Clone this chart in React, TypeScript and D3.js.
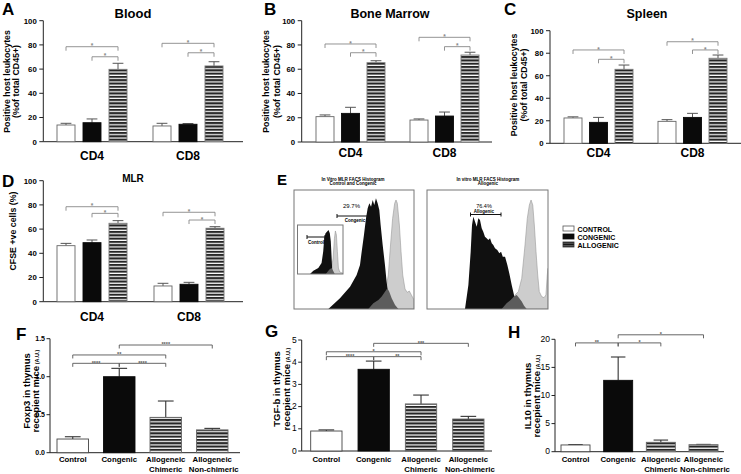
import React from 'react';
import * as d3 from 'd3';

const FONT = '"Liberation Sans", Arial, Helvetica, sans-serif';

// ---------------- data ----------------
const cellGroups = ['CD4', 'CD8'];
const donorSeries = ['CONTROL', 'CONGENIC', 'ALLOGENIC'];
const pctTicks = [0, 20, 40, 60, 80, 100];

const bloodMeans = [[13.8, 15.7, 59.8], [13, 14.4, 62.6]];
const bloodSem = [[1.4, 3.1, 5], [2.2, 0.6, 3.5]];
const bloodSig = [[78.5, 70.2], [81.3, 73.5]];

const marrowMeans = [[20.9, 23.6, 65.4], [18.1, 21.4, 71.7]];
const marrowSem = [[1.4, 5, 1.6], [0.9, 3.3, 2.3]];
const marrowSig = [[80.8, 73.6], [86.3, 78.6]];

const spleenMeans = [[22.5, 18.6, 65.7], [19.5, 23, 75.5]];
const spleenSem = [[1, 4.4, 3.8], [1.5, 3.6, 2.9]];
const spleenSig = [[82.9, 74.6], [90.2, 82.9]];

const mlrMeans = [[46.3, 48.8, 64.8], [13, 14.4, 60.7]];
const mlrSem = [[1.9, 2.2, 2.2], [2.2, 1.6, 1.3]];
const mlrSig = [[78.5, 73], [73.9, 67.5]];

const thymusGroups = ['Control', 'Congenic', 'Allogeneic\nChimeric', 'Allogeneic\nNon-chimeric'];

const foxp3Means = [0.18, 1.0, 0.465, 0.3];
const foxp3Sem = [0.03, 0.11, 0.215, 0.02];
const foxp3Ticks = [0, 0.5, 1.0, 1.5];
const foxp3Sig: [number, number, number, string][] = [[1, 3, 1.417, '****'], [0, 2, 1.286, '**'], [0, 1, 1.176, '****'], [1, 2, 1.176, '****']];

const tgfMeans = [0.9, 3.68, 2.12, 1.44];
const tgfSem = [0.05, 0.37, 0.4, 0.12];
const tgfTicks = [0, 1, 2, 3, 4, 5];
const tgfSig: [number, number, number, string][] = [[1, 3, 4.85, '***'], [0, 2, 4.47, '*'], [0, 1, 4.25, '****'], [1, 2, 4.25, '**']];

const il10Means = [1.2, 12.7, 1.67, 1.25];
const il10Sem = [0.05, 4.15, 0.4, 0.05];
const il10Ticks = [0, 5, 10, 15, 20];
const il10Sig: [number, number, number, string][] = [[1, 3, 20.8, '*'], [0, 1, 19.36, '**'], [1, 2, 19.36, '*']];

// FACS histograms: [fluorescence (0-100 of box), count (0-100 of box)]
const histACongenic: [number, number][] = [[28.6, 0], [38.3, 9], [46.7, 18.8], [52.2, 28.6], [55, 37], [56.4, 48.2], [58.3, 62.2], [60, 76.2], [61.4, 84.6], [62.8, 88.8], [64.2, 86], [65.6, 91.6], [66.9, 87.4], [68.3, 93], [69.7, 88.8], [71.1, 83.2], [72.2, 70.6], [73.9, 53.8], [75.8, 37], [77.2, 22.7], [78.6, 11.8], [79.4, 0]];
const histAControl: [number, number][] = [[71.7, 0], [75.8, 11.8], [78.6, 28.6], [80, 48.2], [82.2, 76.2], [83.9, 88.8], [85, 91.6], [86.1, 88.8], [87.8, 70.6], [89.2, 48.2], [90.6, 28.6], [92.5, 16.8], [94.4, 14], [96.1, 15.1], [97.8, 11.8], [100, 7.6], [100, 0]];
const histAAllogenic: [number, number][] = [[61.9, 0], [66.1, 4.8], [70.3, 7.6], [73.1, 10.4], [75.8, 14.6], [77.8, 17.4], [79.4, 14.6], [81.4, 9], [84.2, 3.4], [87, 0]];

const histBCongenic: [number, number][] = [[31.4, 0], [34.2, 20.2], [36.1, 48.2], [37.2, 70.6], [38.3, 77.6], [39.7, 73.4], [41.1, 69.2], [42.4, 76.2], [43.8, 74.8], [45.2, 67.8], [46.5, 65], [47.9, 60.8], [49.3, 59.4], [50.7, 58], [52.1, 59.4], [53.5, 55.2], [54.8, 53.8], [56.2, 51], [58.1, 49.6], [59.8, 46.8], [61.2, 48.2], [62.6, 44], [64.5, 44], [66.4, 37], [68, 30], [70, 20.2], [71.9, 11.8], [73.6, 3.4], [74.1, 0]];
const histBControl: [number, number][] = [[70, 0], [72.7, 11.8], [75.5, 14.6], [78.3, 25.8], [81, 53.8], [82.9, 76.2], [84.6, 87.4], [86, 91.6], [87.4, 87.4], [88.7, 70.6], [90.1, 48.2], [91.5, 28.6], [92.8, 14.6], [94.8, 10.4], [96.7, 9.5], [98.3, 11.8], [99.4, 28.6], [100, 34.2], [100, 0]];
const histBAllogenic: [number, number][] = [[61.7, 0], [65.8, 4.8], [69.1, 7.6], [71.9, 10.4], [74.1, 11.8], [76.3, 9], [78.3, 6.2], [80.2, 2.8], [82.4, 0]];

const insetCongenic: [number, number][] = [[27.5, 0], [34.8, 6.8], [45.7, 12.2], [52.9, 22.3], [56.5, 45.9], [58.7, 73], [61.6, 83.1], [65.2, 86.5], [68.1, 89.9], [71, 83.1], [73.2, 66.2], [75.4, 25.7], [76.8, 0]];
const insetControl: [number, number][] = [[72.5, 0], [78.3, 32.4], [81.2, 73], [83.3, 87.8], [85.5, 79.7], [87.7, 45.9], [89.9, 12.2], [92.8, 4.1], [98.6, 2], [100, 2], [100, 0]];
const insetAllogenic: [number, number][] = [[62.3, 0], [69.6, 8.8], [74.6, 12.2], [78.3, 6.8], [81.9, 0]];

const legendItems = ['CONTROL', 'CONGENIC', 'ALLOGENIC'];

// ---------------- components ----------------
type GroupCfg = {
  letter: string; letterX: number; letterY: number;
  title: string; titleX: number; titleY: number; titleSize: number;
  axisX: number; xEnd: number; yBottom: number; yTop: number;
  groupRange: [number, number]; groupW: number; barW: number;
  means: number[][]; sem: number[][]; sig: number[][];
  yLabel: string[]; yLabelX: number[]; yLabelCY: number; catY: number;
};

function Bracket({ x1, x2, y, label, color, tick, fs }: { x1: number; x2: number; y: number; label: string; color: string; tick: number; fs: number }) {
  return (
    <g>
      <path d={`M${x1},${y + tick}V${y}H${x2}V${y + tick}`} fill="none" stroke={color} strokeWidth={0.9} />
      <text x={(x1 + x2) / 2} y={y + fs * 0.25} textAnchor="middle" fontSize={fs} fill={color} fontWeight="bold">{label}</text>
    </g>
  );
}

function GroupPanel({ c }: { c: GroupCfg }) {
  const y = d3.scaleLinear().domain([0, 100]).range([c.yBottom, c.yTop]);
  const R = c.groupRange[1] - c.groupRange[0];
  const x0 = d3.scaleBand<string>().domain(cellGroups).range(c.groupRange)
    .paddingInner((R - 2 * c.groupW) / (R - c.groupW)).paddingOuter(0);
  const x1 = d3.scaleBand<string>().domain(donorSeries).range([0, x0.bandwidth()])
    .paddingInner((c.groupW - 3 * c.barW) / (c.groupW - c.barW)).paddingOuter(0);
  const bw = x1.bandwidth();
  const fills = ['#fff', '#0a0a0a', 'url(#stripes)'];
  const strokes = ['#666', '#0a0a0a', '#777'];
  const center = (g: string, s: string) => x0(g)! + x1(s)! + bw / 2;
  return (
    <g fontFamily={FONT}>
      <text x={c.letterX} y={c.letterY} fontSize={17} fontWeight="bold">{c.letter}</text>
      <text x={c.titleX} y={c.titleY} fontSize={c.titleSize} fontWeight="bold" textAnchor="middle">{c.title}</text>
      {c.yLabel.map((t, i) => (
        <text key={i} transform={`translate(${c.yLabelX[i]},${c.yLabelCY}) rotate(-90)`} textAnchor="middle" fontSize={8.8} fontWeight="bold">{t}</text>
      ))}
      {pctTicks.map(t => (
        <g key={t}>
          <line x1={c.axisX - 4} x2={c.axisX} y1={y(t)} y2={y(t)} stroke="#222" />
          <text x={c.axisX - 6.5} y={y(t) + 2.8} textAnchor="end" fontSize={7.8} fontWeight="bold">{t}</text>
        </g>
      ))}
      <line x1={c.axisX} x2={c.axisX} y1={c.yTop} y2={c.yBottom} stroke="#222" />
      <line x1={c.axisX} x2={c.xEnd} y1={c.yBottom} y2={c.yBottom} stroke="#222" />
      {cellGroups.map((g, gi) => (
        <g key={g}>
          {donorSeries.map((s, si) => {
            const bx = x0(g)! + x1(s)!;
            const m = c.means[gi][si];
            const e = c.sem[gi][si];
            const cx = bx + bw / 2;
            return (
              <g key={s}>
                <line x1={cx} x2={cx} y1={y(m)} y2={y(m + e)} stroke="#555" />
                <line x1={cx - bw * 0.3} x2={cx + bw * 0.3} y1={y(m + e)} y2={y(m + e)} stroke="#555" />
                <rect x={bx} y={y(m)} width={bw} height={c.yBottom - y(m)} fill={fills[si]} stroke={strokes[si]} strokeWidth={0.9} />
              </g>
            );
          })}
          <text x={x0(g)! + x0.bandwidth() / 2} y={c.catY} textAnchor="middle" fontSize={12} fontWeight="bold">{g}</text>
          <Bracket x1={center(g, donorSeries[0])} x2={center(g, donorSeries[2])} y={y(c.sig[gi][0])} label="*" color="#888" tick={4} fs={6.5} />
          <Bracket x1={center(g, donorSeries[1])} x2={center(g, donorSeries[2])} y={y(c.sig[gi][1])} label="*" color="#888" tick={4} fs={6.5} />
        </g>
      ))}
    </g>
  );
}

type ThymusCfg = {
  letter: string; letterX: number; letterY: number;
  axisX: number; xEnd: number; yBottom: number; yTop: number; yMax: number;
  barRange: [number, number]; barW: number; ticks: number[]; tickFmt: string; tickFs: number; tickBold: boolean;
  means: number[]; sem: number[]; sig: [number, number, number, string][];
  yLabel1: string; yLabel2: string; yLabelX: number[]; yLabelCY: number;
};

function ThymusPanel({ c }: { c: ThymusCfg }) {
  const y = d3.scaleLinear().domain([0, c.yMax]).range([c.yBottom, c.yTop]);
  const R = c.barRange[1] - c.barRange[0];
  const n = thymusGroups.length;
  const x = d3.scaleBand<string>().domain(thymusGroups).range(c.barRange)
    .paddingInner((R - n * c.barW) / (R - c.barW)).paddingOuter(0);
  const bw = x.bandwidth();
  const fills = ['#fff', '#0a0a0a', 'url(#stripes)', 'url(#stripes)'];
  const strokes = ['#444', '#0a0a0a', '#666', '#666'];
  const fmt = d3.format(c.tickFmt);
  const cx = (i: number) => x(thymusGroups[i])! + bw / 2;
  return (
    <g fontFamily={FONT}>
      <text x={c.letterX} y={c.letterY} fontSize={17} fontWeight="bold">{c.letter}</text>
      <text transform={`translate(${c.yLabelX[0]},${c.yLabelCY}) rotate(-90)`} textAnchor="middle" fontSize={9.5} fontWeight="bold">{c.yLabel1}</text>
      <text transform={`translate(${c.yLabelX[1]},${c.yLabelCY}) rotate(-90)`} textAnchor="middle" fontSize={9.5} fontWeight="bold">
        {c.yLabel2}<tspan fontSize={5.5}> (A.U.)</tspan>
      </text>
      {c.ticks.map(t => (
        <g key={t}>
          <line x1={c.axisX - 3.5} x2={c.axisX} y1={y(t)} y2={y(t)} stroke="#222" />
          <text x={c.axisX - 5} y={y(t) + 2.6} textAnchor="end" fontSize={c.tickFs} fontWeight={c.tickBold ? 'bold' : 'normal'}>{fmt(t)}</text>
        </g>
      ))}
      <line x1={c.axisX} x2={c.axisX} y1={c.yTop} y2={c.yBottom} stroke="#222" />
      <line x1={c.axisX} x2={c.xEnd} y1={c.yBottom} y2={c.yBottom} stroke="#222" />
      {thymusGroups.map((g, i) => {
        const bx = x(g)!;
        const m = c.means[i];
        const e = c.sem[i];
        const mx = bx + bw / 2;
        return (
          <g key={g}>
            <line x1={mx} x2={mx} y1={y(m)} y2={y(m + e)} stroke="#333" strokeWidth={1.1} />
            <line x1={mx - bw * 0.25} x2={mx + bw * 0.25} y1={y(m + e)} y2={y(m + e)} stroke="#333" strokeWidth={1.1} />
            <rect x={bx} y={y(m)} width={bw} height={c.yBottom - y(m)} fill={fills[i]} stroke={strokes[i]} strokeWidth={0.9} />
            {g.split('\n').map((t, li) => (
              <text key={li} x={mx + (i === 3 && li === 1 ? 1.5 : 0)} y={461.5 + li * 10.5} textAnchor="middle" fontSize={7.8} fontWeight="bold">{t}</text>
            ))}
          </g>
        );
      })}
      {c.sig.map((s, i) => (
        <Bracket key={i} x1={cx(s[0])} x2={cx(s[1])} y={y(s[2])} label={s[3]} color="#555" tick={3.5} fs={5.5} />
      ))}
    </g>
  );
}

function HistBox({ bx0, bx1, by0, by1, control, congenic, allogenic, id }: {
  bx0: number; bx1: number; by0: number; by1: number;
  control: [number, number][]; congenic: [number, number][]; allogenic: [number, number][]; id: string;
}) {
  const x = d3.scaleLinear().domain([0, 100]).range([bx0, bx1]);
  const y = d3.scaleLinear().domain([0, 100]).range([by1, by0]);
  const area = d3.area<[number, number]>().x(d => x(d[0])).y0(by1).y1(d => y(d[1]));
  return (
    <g>
      <clipPath id={id}><rect x={bx0} y={by0} width={bx1 - bx0} height={by1 - by0} /></clipPath>
      <rect x={bx0} y={by0} width={bx1 - bx0} height={by1 - by0} fill="#fff" />
      <g clipPath={`url(#${id})`}>
        <path d={area(control)!} fill="#cdcdcd" stroke="#999" strokeWidth={0.6} />
        <path d={area(congenic)!} fill="#101010" />
        <path d={area(allogenic)!} fill="#5c5c5c" />
      </g>
      <rect x={bx0} y={by0} width={bx1 - bx0} height={by1 - by0} fill="none" stroke="#777" strokeWidth={1} />
    </g>
  );
}

function Marker({ x1, x2, y }: { x1: number; x2: number; y: number }) {
  return <path d={`M${x1},${y - 2}V${y + 2}M${x1},${y}H${x2}M${x2},${y - 2}V${y + 2}`} stroke="#111" strokeWidth={1} fill="none" />;
}

function PanelE() {
  return (
    <g fontFamily={FONT}>
      <text x={277} y={184.5} fontSize={15} fontWeight="bold">E</text>
      <text x={353} y={180.5} fontSize={4.5} fontWeight="bold" textAnchor="middle">In Vitro MLR FACS Histogram</text>
      <text x={353} y={185.3} fontSize={4.5} fontWeight="bold" textAnchor="middle">Control and Congenic</text>
      <text x={488} y={180.5} fontSize={4.5} fontWeight="bold" textAnchor="middle">In vitro MLR FACS Histogram</text>
      <text x={488} y={185.3} fontSize={4.5} fontWeight="bold" textAnchor="middle">Allogenic</text>
      <HistBox bx0={294} bx1={414} by0={190} by1={309} control={histAControl} congenic={histACongenic} allogenic={histAAllogenic} id="clipA" />
      <HistBox bx0={297.5} bx1={343} by0={225} by1={274} control={insetControl} congenic={insetCongenic} allogenic={insetAllogenic} id="clipI" />
      <Marker x1={307} x2={325} y={237} />
      <text x={316} y={243.5} fontSize={4.5} fontWeight="bold" textAnchor="middle">Control</text>
      <text x={351.5} y={208} fontSize={6} textAnchor="middle">29.7%</text>
      <Marker x1={337} x2={367.5} y={216} />
      <text x={355} y={221.5} fontSize={4.5} fontWeight="bold" textAnchor="middle">Congenic</text>
      <HistBox bx0={427} bx1={548} by0={190} by1={309} control={histBControl} congenic={histBCongenic} allogenic={histBAllogenic} id="clipB" />
      <text x={484} y={208} fontSize={5.5} textAnchor="middle">76.4%</text>
      <text x={484} y={212.5} fontSize={4.5} fontWeight="bold" textAnchor="middle">Allogenic</text>
      <Marker x1={470.5} x2={501} y={214.5} />
      {legendItems.map((t, i) => (
        <g key={t}>
          <rect x={563} y={226 + i * 8} width={11} height={5} fill={['#fff', '#0a0a0a', 'url(#stripesLeg)'][i]} stroke={['#555', '#0a0a0a', '#333'][i]} strokeWidth={0.8} />
          <text x={577.5} y={231.5 + i * 8} fontSize={7} fontWeight="bold">{t}</text>
        </g>
      ))}
    </g>
  );
}

const panelA: GroupCfg = {
  letter: 'A', letterX: 2, letterY: 14.5, title: 'Blood', titleX: 133, titleY: 18.3, titleSize: 13,
  axisX: 43.3, xEnd: 243, yBottom: 141.7, yTop: 20.7, groupRange: [57, 223], groupW: 70, barW: 18,
  means: bloodMeans, sem: bloodSem, sig: bloodSig,
  yLabel: ['Positive host leukocytes', '(%of total CD45+)'], yLabelX: [10.3, 18.8], yLabelCY: 81.5, catY: 159.5,
};
const panelB: GroupCfg = {
  letter: 'B', letterX: 264, letterY: 15, title: 'Bone Marrow', titleX: 390, titleY: 18.3, titleSize: 12.5,
  axisX: 301.7, xEnd: 492, yBottom: 142, yTop: 20.7, groupRange: [316, 479], groupW: 69, barW: 18,
  means: marrowMeans, sem: marrowSem, sig: marrowSig,
  yLabel: ['Positive host leukocytes', '(%of total CD45+)'], yLabelX: [269.3, 279.8], yLabelCY: 81.5, catY: 157.3,
};
const panelC: GroupCfg = {
  letter: 'C', letterX: 504, letterY: 15, title: 'Spleen', titleX: 647, titleY: 18.3, titleSize: 12.5,
  axisX: 550, xEnd: 741, yBottom: 143.3, yTop: 30.7, groupRange: [564, 727], groupW: 69, barW: 18,
  means: spleenMeans, sem: spleenSem, sig: spleenSig,
  yLabel: ['Positive host leukocytes', '(%of total CD45+)'], yLabelX: [516.8, 527], yLabelCY: 85, catY: 156.7,
};
const panelD: GroupCfg = {
  letter: 'D', letterX: 2, letterY: 187.3, title: 'MLR', titleX: 133, titleY: 181.7, titleSize: 10,
  axisX: 43.3, xEnd: 243, yBottom: 301.7, yTop: 180.7, groupRange: [57, 224], groupW: 70, barW: 18,
  means: mlrMeans, sem: mlrSem, sig: mlrSig,
  yLabel: ['CFSE +ve cells (%)'], yLabelX: [16], yLabelCY: 231, catY: 320.5,
};

const panelF: ThymusCfg = {
  letter: 'F', letterX: 16, letterY: 339.5, axisX: 50, xEnd: 240, yBottom: 452.7, yTop: 338.7, yMax: 1.5,
  barRange: [57, 228], barW: 31.5, ticks: foxp3Ticks, tickFmt: '.1f', tickFs: 7, tickBold: true,
  means: foxp3Means, sem: foxp3Sem, sig: foxp3Sig,
  yLabel1: 'Foxp3 in thymus', yLabel2: 'recepient mice', yLabelX: [30.3, 39.3], yLabelCY: 391,
};
const panelG: ThymusCfg = {
  letter: 'G', letterX: 265, letterY: 337, axisX: 301.7, xEnd: 492, yBottom: 451, yTop: 340, yMax: 5,
  barRange: [310.7, 484], barW: 31.3, ticks: tgfTicks, tickFmt: 'd', tickFs: 8.5, tickBold: false,
  means: tgfMeans, sem: tgfSem, sig: tgfSig,
  yLabel1: 'TGF-b in thymus', yLabel2: 'recepient mice', yLabelX: [280.3, 289.5], yLabelCY: 389,
};
const panelH: ThymusCfg = {
  letter: 'H', letterX: 508, letterY: 337.5, axisX: 555, xEnd: 724, yBottom: 451.7, yTop: 339.3, yMax: 20,
  barRange: [561, 718], barW: 29, ticks: il10Ticks, tickFmt: 'd', tickFs: 8.5, tickBold: false,
  means: il10Means, sem: il10Sem, sig: il10Sig,
  yLabel1: 'IL10 in thymus', yLabel2: 'recepient mice', yLabelX: [530.5, 540], yLabelCY: 396,
};

export default function App() {
  return (
    <div style={{ position: 'absolute', left: 0, top: 0, width: 741, height: 474, background: '#fff' }}>
      <svg width={741} height={474} viewBox="0 0 741 474" style={{ display: 'block' }}>
        <defs>
          <pattern id="stripes" patternUnits="userSpaceOnUse" width={4} height={3.3}>
            <rect width={4} height={3.3} fill="#262626" />
            <rect y={2.1} width={4} height={1.2} fill="#fff" />
          </pattern>
          <pattern id="stripesLeg" patternUnits="userSpaceOnUse" width={4} height={2.5}>
            <rect width={4} height={2.5} fill="#555" />
            <rect y={1.5} width={4} height={1} fill="#111" />
          </pattern>
        </defs>
        <rect width={741} height={474} fill="#fff" />
        <GroupPanel c={panelA} />
        <GroupPanel c={panelB} />
        <GroupPanel c={panelC} />
        <GroupPanel c={panelD} />
        <PanelE />
        <ThymusPanel c={panelF} />
        <ThymusPanel c={panelG} />
        <ThymusPanel c={panelH} />
      </svg>
    </div>
  );
}
